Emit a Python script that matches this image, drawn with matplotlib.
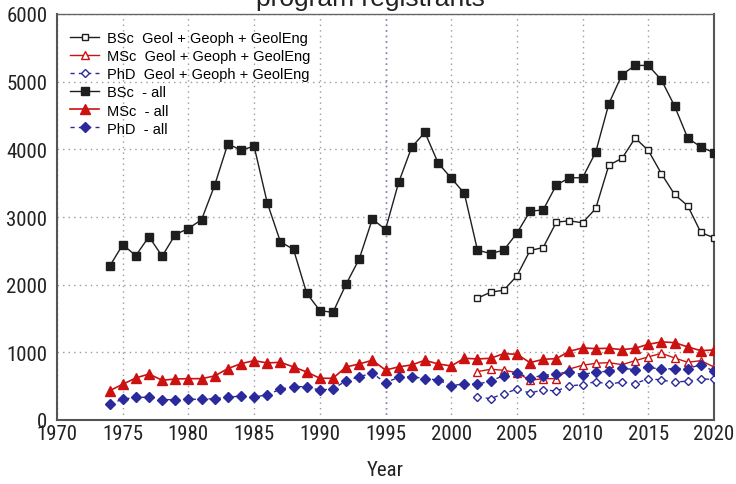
import matplotlib
matplotlib.use("Agg")
import matplotlib.pyplot as plt

# years
years_all = list(range(1974, 2021))
years_geo = list(range(2002, 2021))

# all programs
bsc_all = [2270, 2590, 2430, 2710, 2420, 2740, 2830, 2960, 3470, 4080,
           3990, 4045, 3210, 2635, 2520, 1875, 1617, 1590, 2007, 2380,
           2970, 2815, 3510, 4035, 4250, 3800, 3575, 3350, 2510, 2460,
           2510, 2760, 3085, 3105, 3472, 3580, 3580, 3960, 4675, 5105,
           5240, 5240, 5025, 4640, 4167, 4035, 3950]
msc_all = [433, 528, 621, 680, 587, 606, 611, 611, 651, 759,
           833, 877, 843, 853, 784, 710, 617, 617, 784, 828,
           883, 738, 785, 814, 883, 828, 799, 912, 902, 912,
           981, 971, 848, 897, 907, 1016, 1065, 1055, 1060, 1040,
           1060, 1119, 1154, 1144, 1080, 1025, 1035]
phd_all = [237, 306, 336, 336, 301, 301, 306, 306, 316, 336,
           355, 336, 375, 454, 493, 493, 439, 464, 577, 641,
           690, 552, 631, 641, 611, 592, 508, 533, 528, 577,
           656, 690, 626, 656, 685, 710, 670, 710, 720, 764,
           745, 779, 750, 760, 760, 818, 720]

# Geol + Geoph + GeolEng
bsc_geo = [1800, 1889, 1918, 2130, 2505, 2549, 2924, 2944, 2914, 3126,
           3768, 3866, 4167, 3984, 3639, 3333, 3166, 2771, 2692]
msc_geo = [715, 750, 735, 700, 587, 611, 611, 754, 809, 838,
           848, 818, 877, 932, 986, 917, 853, 877, 784]
phd_geo = [340, 316, 390, 454, 400, 444, 429, 503, 523, 567,
           528, 562, 538, 611, 592, 557, 577, 606, 601]

plt.rcParams['font.family'] = ['Liberation Sans', 'DejaVu Sans']
NARROW = ['Roboto Condensed', 'DejaVu Sans']

BLACK = '#1e1e1e'
RED = '#cc1111'
BLUE = '#2a2a9c'
GRID = '#9a9a9a'

fig = plt.figure(figsize=(7.36, 4.85), dpi=100)
ax = fig.add_axes([57 / 736, 64 / 485, 657 / 736, 406 / 485])

ax.plot(years_geo, bsc_geo, color=BLACK, lw=1, marker='s', ms=5, mfc='white', mec=BLACK, mew=1,
        label='BSc  Geol + Geoph + GeolEng', zorder=4)
ax.plot(years_geo, msc_geo, color=RED, lw=1, marker='^', ms=6, mfc='white', mec=RED, mew=1,
        label='MSc  Geol + Geoph + GeolEng', zorder=4)
ax.plot(years_geo, phd_geo, color=BLUE, lw=1, ls=(0, (3, 3)), marker='D', ms=4, mfc='white', mec=BLUE, mew=1,
        label='PhD  Geol + Geoph + GeolEng', zorder=4)
ax.plot(years_all, bsc_all, color=BLACK, lw=1, marker='s', ms=6, mfc=BLACK, mec=BLACK,
        label='BSc  - all', zorder=5)
ax.plot(years_all, msc_all, color=RED, lw=1.2, marker='^', ms=7, mfc=RED, mec=RED,
        label='MSc  - all', zorder=5)
ax.plot(years_all, phd_all, color=BLUE, lw=1, ls=(0, (3, 3)), marker='D', ms=5, mfc=BLUE, mec=BLUE,
        label='PhD  - all', zorder=5)

ax.set_xlim(1970, 2020)
ax.set_ylim(0, 6000)
ax.set_xticks(range(1970, 2021, 5))
ax.set_yticks(range(0, 6001, 1000))
ax.grid(True, ls=(0, (1, 3)), color=GRID, lw=1)
ax.axvline(1995, ls=(0, (1, 3)), color=BLUE, lw=1, zorder=1)

for lab in ax.get_xticklabels() + ax.get_yticklabels():
    lab.set_fontfamily(NARROW)
    lab.set_fontstretch('condensed')
    lab.set_fontsize(15)
    lab.set_color('#222222')
ax.tick_params(axis='x', length=0, pad=3)
ax.tick_params(axis='y', length=0, pad=7)

for side in ['left', 'right', 'bottom']:
    ax.spines[side].set_color('#555555')
    ax.spines[side].set_linewidth(1.5)
ax.spines['top'].set_color('#666666')
ax.spines['top'].set_linestyle((0, (2, 1)))
ax.spines['top'].set_linewidth(1)

ax.set_xlabel('Year', fontsize=15, family=NARROW, fontstretch='condensed', labelpad=12, color='#222222')

leg = ax.legend(loc='upper left', frameon=False, fontsize=10.5, handlelength=2.0,
                labelspacing=0.28, borderaxespad=0.5, handletextpad=0.5,
                bbox_to_anchor=(0.0, 0.99))

fig.text(0.503, 1.003, 'program registrants', ha='center', va='center', fontsize=19,
         color='#222222')

fig.savefig('out.png', dpi=100)
